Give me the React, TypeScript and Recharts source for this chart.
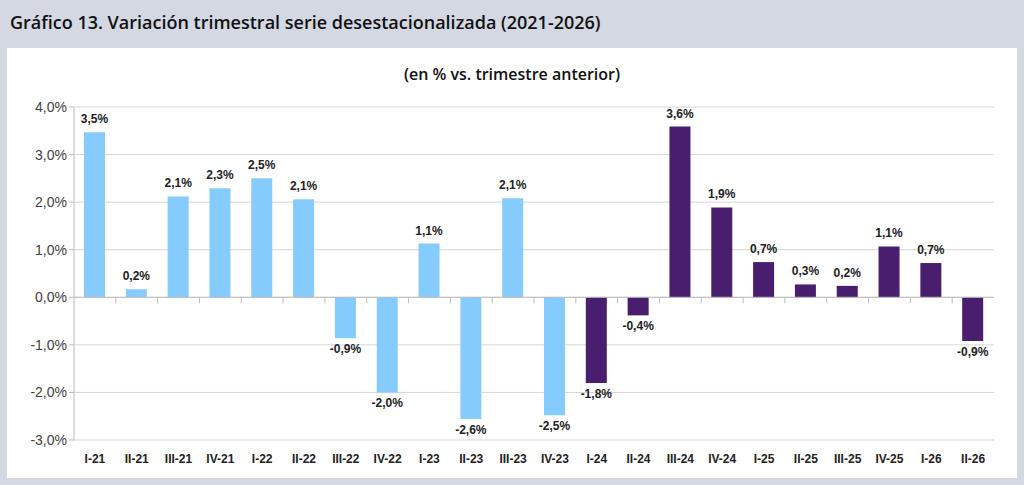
import React from "react";
import { Bar, BarChart, CartesianGrid, Cell, LabelList, ReferenceLine, XAxis, YAxis } from "recharts";

const categories = [
  "I-21", "II-21", "III-21", "IV-21",
  "I-22", "II-22", "III-22", "IV-22",
  "I-23", "II-23", "III-23", "IV-23",
  "I-24", "II-24", "III-24", "IV-24",
  "I-25", "II-25", "III-25", "IV-25",
  "I-26", "II-26",
];

// variación trimestral (%)
const values = [
  3.47, 0.17, 2.12, 2.29,
  2.5, 2.06, -0.86, -2.0,
  1.13, -2.56, 2.08, -2.48,
  -1.8, -0.38, 3.59, 1.89,
  0.74, 0.27, 0.24, 1.07,
  0.72, -0.92,
];

const yTicks = [-3, -2, -1, 0, 1, 2, 3, 4];
const Y_MIN = -3;
const Y_MAX = 4;

const BLUE = "#86cbfd";
const PURPLE = "#4a1e6e";
const AXIS_GREY = "#bdbdbd";

const data = categories.map((c, i) => ({ cat: c, v: values[i] }));

function fmt(v: number, d = 1) {
  return v.toFixed(d).replace(".", ",") + "%";
}

function colorFor(cat: string) {
  const yr = Number(cat.split("-")[1]);
  return yr >= 24 ? PURPLE : BLUE;
}

function ValueLabel(props: any) {
  const { x, y, width, height, value } = props;
  const top = Math.min(y, y + height);
  const bottom = Math.max(y, y + height);
  const cx = x + width / 2;
  const ty = value >= 0 ? top - 9 : bottom + 15;
  return (
    <text
      x={cx}
      y={ty}
      textAnchor="middle"
      fontFamily="'Liberation Sans', Arial, sans-serif"
      fontSize={12}
      fontWeight="bold"
      fill="#222"
    >
      {fmt(value)}
    </text>
  );
}

// short category tick hanging below the 0% line
function ZeroTick(props: any) {
  const { x1, y1, y2 } = props;
  if (x1 == null || y1 == null || y2 == null) return null;
  const yTop = Math.min(y1, y2);
  const yBot = Math.max(y1, y2);
  const y0 = yTop + ((Y_MAX - 0) / (Y_MAX - Y_MIN)) * (yBot - yTop);
  return <line x1={x1} x2={x1} y1={y0} y2={y0 + 6} stroke={AXIS_GREY} />;
}

export default function App() {
  const last = categories[categories.length - 1];
  return (
    <div
      style={{
        position: "absolute",
        left: 0,
        top: 0,
        width: 1024,
        height: 485,
        background: "#d3d8e2",
        overflow: "hidden",
      }}
    >
      <style>{`body{margin:0}`}</style>
      <div
        style={{
          position: "absolute",
          left: 10,
          top: 10,
          fontFamily: "'Open Sans', sans-serif",
          fontWeight: 600,
          fontSize: 18,
          color: "#111",
          whiteSpace: "nowrap",
        }}
      >
        Gráfico 13. Variación trimestral serie desestacionalizada (2021-2026)
      </div>
      <div
        style={{
          position: "absolute",
          left: 7,
          top: 48,
          width: 1010,
          height: 430,
          background: "#fff",
        }}
      >
        <div
          style={{
            position: "absolute",
            left: 0,
            top: 15,
            width: 1010,
            textAlign: "center",
            fontFamily: "'Open Sans', sans-serif",
            fontWeight: 600,
            fontSize: 16,
            color: "#111",
          }}
        >
          (en % vs. trimestre anterior)
        </div>
        <BarChart
          width={1010}
          height={430}
          data={data}
          margin={{ top: 59, right: 23, left: 0, bottom: 0 }}
        >
          <CartesianGrid vertical={false} stroke="#d6d6d6" />
          <XAxis
            dataKey="cat"
            axisLine={false}
            tickLine={false}
            height={38}
            tickMargin={8}
            interval={0}
            tick={{
              fontFamily: "'Liberation Sans', Arial, sans-serif",
              fontSize: 12,
              fontWeight: "bold",
              fill: "#222",
            }}
          />
          <YAxis
            domain={[Y_MIN, Y_MAX]}
            ticks={yTicks}
            width={67}
            interval={0}
            tickFormatter={(v: number) => fmt(v)}
            axisLine={{ stroke: AXIS_GREY }}
            tickLine={{ stroke: AXIS_GREY }}
            tickSize={5}
            tick={{
              fontFamily: "'Liberation Sans', Arial, sans-serif",
              fontSize: 14,
              fill: "#404040",
            }}
          />
          <YAxis
            yAxisId="r"
            orientation="right"
            domain={[Y_MIN, Y_MAX]}
            width={0}
            tick={false}
            tickLine={false}
            axisLine={{ stroke: "#d6d6d6" }}
          />
          <ReferenceLine y={0} stroke={AXIS_GREY} />
          {categories.slice(1).map((c) => (
            <ReferenceLine key={"t" + c} x={c} position="start" shape={ZeroTick} />
          ))}
          <ReferenceLine x={last} position="end" shape={ZeroTick} />
          <Bar dataKey="v" barSize={21} isAnimationActive={false}>
            {data.map((d) => (
              <Cell key={d.cat} fill={colorFor(d.cat)} />
            ))}
            <LabelList dataKey="v" content={ValueLabel} />
          </Bar>
        </BarChart>
      </div>
    </div>
  );
}
